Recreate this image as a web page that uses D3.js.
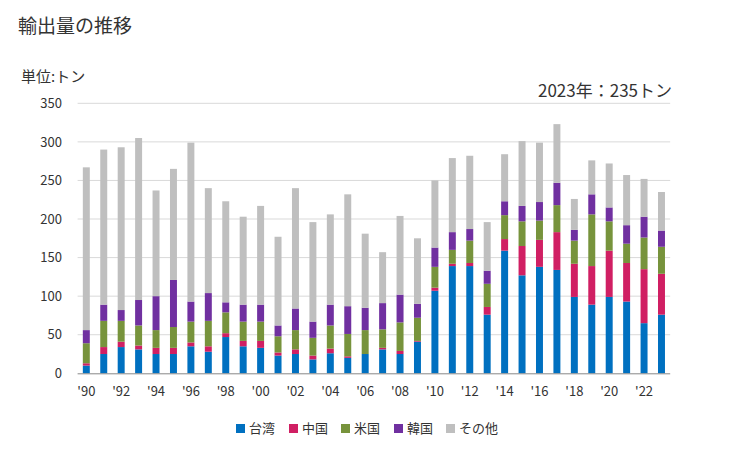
<!DOCTYPE html>
<html><head><meta charset="utf-8">
<script src="https://cdn.jsdelivr.net/npm/d3@7"></script>
<style>body{margin:0;background:#fff;font-family:"Noto Sans CJK JP","Noto Sans",sans-serif;}</style>
</head><body><svg id="c" width="729" height="450"></svg>
<script>
const years = d3.range(1990, 2024);
const seriesNames = ["台湾","中国","米国","韓国","その他"];
const colors = ["#0070C0","#D01F63","#77933C","#7030A0","#BFBFBF"];
const taiwan = [10,25,34,31,25,25,35,28,47,35,33,23,25,18,26,20,25,31,25,41,107,139,139,76,159,127,138,134,99,89,99,93,65,76];
const china  = [3,9,7,5,8,8,5,7,5,7,9,4,6,5,6,2,0,2,4,1,4,3,4,10,15,38,35,49,43,50,60,50,70,53];
const usa    = [26,34,27,26,23,27,27,33,27,25,25,21,25,23,30,29,31,24,37,30,27,18,29,30,31,32,25,35,30,67,38,25,41,35];
const korea  = [17,21,14,33,44,61,26,36,13,22,22,14,28,21,27,36,29,34,36,18,25,23,15,17,18,20,24,29,14,26,18,24,27,21];
const other  = [211,201,211,210,137,144,206,136,131,114,128,115,156,129,117,145,96,66,102,85,87,96,95,63,61,84,77,76,40,44,57,65,49,50];
const yTicks = [0,50,100,150,200,250,300,350];

const svg = d3.select("#c");
const x0 = 77.6, x1 = 670.2, yTop = 103.3, yBot = 373.3;
const x = d3.scaleBand().domain(years).range([x0, x1]).paddingInner(0.6).paddingOuter(0.3);
const y = d3.scaleLinear().domain([0, 350]).range([yBot, yTop]);

const data = years.map((yr, i) => ({year: yr, "台湾": taiwan[i], "中国": china[i], "米国": usa[i], "韓国": korea[i], "その他": other[i]}));
const stacked = d3.stack().keys(seriesNames)(data);

// gridlines
svg.append("g").selectAll("line").data(yTicks.filter(t => t > 0)).join("line")
  .attr("x1", x0).attr("x2", x1).attr("y1", d => y(d)).attr("y2", d => y(d))
  .attr("stroke", "#d9d9d9").attr("stroke-width", 1);

// y axis labels
const yAxis = d3.axisLeft(y).tickValues(yTicks).tickSize(0).tickPadding(0);
const ya = svg.append("g").attr("transform", `translate(62,0)`).call(yAxis);
ya.select(".domain").remove();
ya.selectAll("text").attr("font-size", 13).attr("fill", "#333").attr("font-family", "'Noto Sans CJK JP',sans-serif");

// bars
svg.append("g").selectAll("g").data(stacked).join("g")
  .attr("fill", (d, i) => colors[i])
  .selectAll("rect").data(d => d).join("rect")
  .attr("x", d => x(d.data.year))
  .attr("width", x.bandwidth())
  .attr("y", d => y(d[1]))
  .attr("height", d => y(d[0]) - y(d[1]));

// x axis
const xAxis = d3.axisBottom(x).tickValues(years.filter(yr => yr % 2 === 0))
  .tickFormat(yr => "'" + String(yr).slice(2)).tickSize(0).tickPadding(13);
const xa = svg.append("g").attr("transform", `translate(0,${yBot})`).call(xAxis);
xa.select(".domain").attr("stroke", "#888").attr("d", `M${x0},0.5H${x1}`);
xa.selectAll("text").attr("font-size", 13).attr("fill", "#333").attr("font-family", "'Noto Sans CJK JP',sans-serif");

// titles
svg.append("text").attr("x", 18).attr("y", 33).attr("font-size", 19).attr("fill", "#333").text("輸出量の推移");
svg.append("text").attr("x", 21).attr("y", 82).attr("font-size", 15).attr("fill", "#333").text("単位:トン");
svg.append("text").attr("x", 672).attr("y", 97).attr("text-anchor", "end").attr("font-size", 17).attr("fill", "#333").text("2023年：235トン");

// legend
const legendX = [236, 289, 341, 394, 446];
const lg = svg.append("g").selectAll("g").data(seriesNames).join("g")
  .attr("transform", (d, i) => `translate(${legendX[i]},422)`);
lg.append("rect").attr("width", 9).attr("height", 9).attr("y", 2).attr("fill", (d, i) => colors[i]);
lg.append("text").attr("x", 13).attr("y", 10.5).attr("font-size", 13).attr("fill", "#333").text(d => d);
</script></body></html>
